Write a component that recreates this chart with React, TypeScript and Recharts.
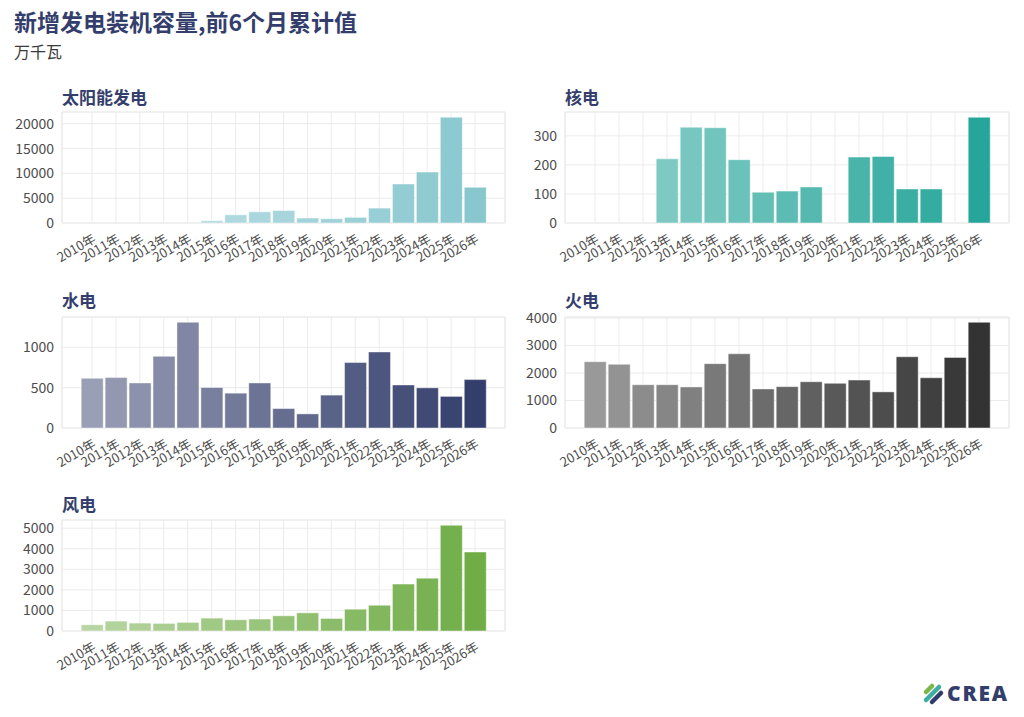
import React from 'react';
import { BarChart, Bar, XAxis, YAxis, CartesianGrid, Cell } from 'recharts';

const categories = ['2010年','2011年','2012年','2013年','2014年','2015年','2016年','2017年','2018年','2019年','2020年','2021年','2022年','2023年','2024年','2025年','2026年'];

const solar = [null, null, null, null, null, 450, 1650, 2250, 2520, 1000, 860, 1130, 3000, 7860, 10260, 21300, 7200];
const nuclear = [null, null, null, 221, 330, 328, 218, 106, 110, 124, null, 227, 229, 117, 117, null, 364];
const hydro = [616, 625, 559, 889, 1311, 502, 432, 559, 241, 175, 408, 812, 943, 534, 498, 392, 600];
const thermal = [2413, 2316, 1575, 1575, 1493, 2341, 2700, 1421, 1504, 1683, 1625, 1743, 1314, 2592, 1826, 2567, 3845];
const wind = [304, 482, 386, 370, 418, 627, 546, 578, 739, 883, 611, 1060, 1253, 2281, 2570, 5143, 3843];

const solarTicks = [0, 5000, 10000, 15000, 20000];
const nuclearTicks = [0, 100, 200, 300];
const hydroTicks = [0, 500, 1000];
const thermalTicks = [0, 1000, 2000, 3000, 4000];
const windTicks = [0, 1000, 2000, 3000, 4000, 5000];

const FONT = '"Noto Sans CJK SC", "Noto Sans", sans-serif';
const NAVY = '#333e6c';

function mix(hex: string, a: number): string {
  const r = parseInt(hex.slice(1, 3), 16);
  const g = parseInt(hex.slice(3, 5), 16);
  const b = parseInt(hex.slice(5, 7), 16);
  const f = (c: number) => Math.round(c * a + 255 * (1 - a)).toString(16).padStart(2, '0');
  return '#' + f(r) + f(g) + f(b);
}

const XTick = (props: any) => {
  const { x, y, payload } = props;
  return (
    <text
      x={x}
      y={y}
      dy="0.75em"
      textAnchor="end"
      transform={`rotate(-30 ${x} ${y})`}
      fontSize={13}
      fill="#4d4d4d"
      fontFamily={FONT}
    >
      {payload.value}
    </text>
  );
};

type PanelProps = {
  values: (number | null)[];
  color: string;
  ticks: number[];
  left: number;
  plotTop: number;
  yAxisWidth: number;
  rightMargin: number;
};

function Panel({ values, color, ticks, left, plotTop, yAxisWidth, rightMargin }: PanelProps) {
  const data = categories.map((c, i) => ({ year: c, value: values[i] }));
  const MT = 10;
  const PH = 111;
  const XH = 60;
  return (
    <div style={{ position: 'absolute', left, top: plotTop - MT }}>
      <BarChart
        width={512}
        height={MT + PH + XH}
        data={data}
        margin={{ top: MT, right: rightMargin, bottom: 0, left: 0 }}
        barCategoryGap="5%"
      >
        <CartesianGrid stroke="#ebebeb" strokeWidth={1} />
        <CartesianGrid
          stroke="#ebebeb"
          strokeWidth={1.2}
          verticalCoordinatesGenerator={(p: any) => [p.offset.left, p.offset.left + p.offset.width]}
          horizontalCoordinatesGenerator={(p: any) => [p.offset.top, p.offset.top + p.offset.height]}
        />
        <XAxis
          dataKey="year"
          interval={0}
          axisLine={false}
          tickLine={false}
          padding={{ left: 18, right: 18 }}
          height={XH}
          tickMargin={4}
          tick={<XTick />}
        />
        <YAxis
          width={yAxisWidth}
          ticks={ticks}
          domain={[0, (m: number) => m * 1.05]}
          axisLine={false}
          tickLine={false}
          interval={0}
          tick={{ fontSize: 14, fill: '#4d4d4d', fontFamily: FONT }}
        />
        <Bar dataKey="value" isAnimationActive={false} stroke="#ffffff" strokeOpacity={0.45} strokeWidth={1}>
          {data.map((d, i) => (
            <Cell key={i} fill={mix(color, 0.5 + (0.5 * i) / 16)} />
          ))}
        </Bar>
      </BarChart>
    </div>
  );
}

export default function App() {
  return (
    <div style={{ position: 'absolute', left: 0, top: 0, width: 1024, height: 717, background: '#fff', fontFamily: FONT }}>
      <Panel values={solar} color="#89c7cf" ticks={solarTicks} left={0} plotTop={112} yAxisWidth={62} rightMargin={7} />
      <Panel values={nuclear} color="#26a69a" ticks={nuclearTicks} left={512} plotTop={112} yAxisWidth={53} rightMargin={15} />
      <Panel values={hydro} color="#333e6b" ticks={hydroTicks} left={0} plotTop={316.5} yAxisWidth={62} rightMargin={7} />
      <Panel values={thermal} color="#333333" ticks={thermalTicks} left={512} plotTop={316.5} yAxisWidth={53} rightMargin={15} />
      <Panel values={wind} color="#70ad47" ticks={windTicks} left={0} plotTop={520} yAxisWidth={62} rightMargin={7} />
      <svg width={1024} height={717} style={{ position: 'absolute', left: 0, top: 0, pointerEvents: 'none' }}>
        <text x={14} y={31} fontSize={23} fontWeight={700} fill={NAVY} fontFamily={FONT}>新增发电装机容量,前6个月累计值</text>
        <text x={14} y={57.5} fontSize={16} fill="#3a3a3a" fontFamily={FONT}>万千瓦</text>
        <text x={62} y={103.5} fontSize={17} fontWeight={700} fill={NAVY} fontFamily={FONT}>太阳能发电</text>
        <text x={565} y={103.5} fontSize={17} fontWeight={700} fill={NAVY} fontFamily={FONT}>核电</text>
        <text x={62} y={307} fontSize={17} fontWeight={700} fill={NAVY} fontFamily={FONT}>水电</text>
        <text x={565} y={307} fontSize={17} fontWeight={700} fill={NAVY} fontFamily={FONT}>火电</text>
        <text x={62} y={511} fontSize={17} fontWeight={700} fill={NAVY} fontFamily={FONT}>风电</text>
        <g strokeLinecap="round" strokeWidth={4.5}>
          <line x1={926} y1={692} x2={932} y2={686} stroke="#7ab648" />
          <line x1={926} y1={700} x2={939} y2={687} stroke="#3aaea3" />
          <line x1={932} y1={702} x2={941} y2={693} stroke="#2f3b6b" />
        </g>
        <text x={947} y={701} fontSize={21} fontWeight={800} fill={NAVY} fontFamily='"Open Sans", sans-serif' letterSpacing={1.8}>CREA</text>
      </svg>
    </div>
  );
}
